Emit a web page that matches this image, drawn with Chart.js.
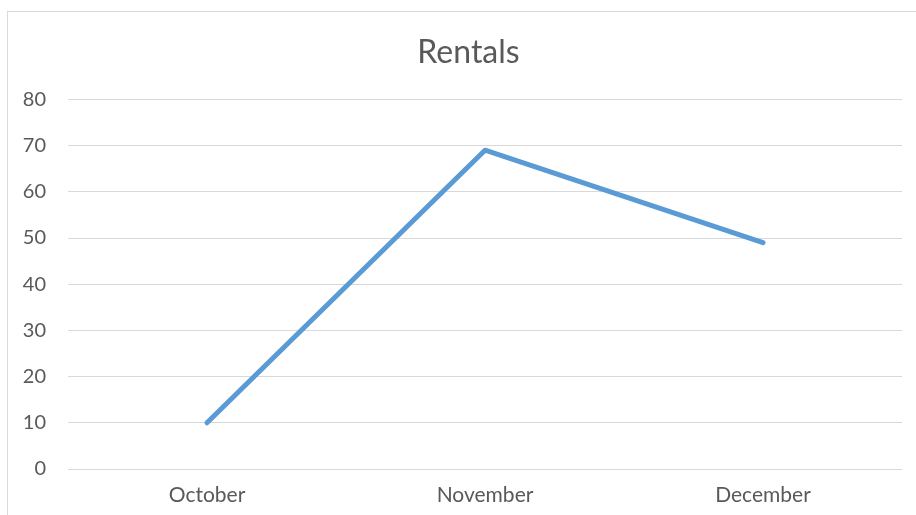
<!DOCTYPE html>
<html>
<head>
<meta charset="utf-8">
<script src="https://cdn.jsdelivr.net/npm/chart.js@4.4.0/dist/chart.umd.min.js"></script>
<style>
  html, body { margin: 0; padding: 0; background: #fff; overflow: hidden; width: 916px; height: 515px; }
  #wrap { position: relative; width: 916px; height: 515px; overflow: hidden; }
  #rentalsChart { position: absolute; left: 0; top: 0; }
  #frame { position: absolute; left: 7px; top: 11px; width: 1000px; height: 600px; border: 1.5px solid #d9d9d9; pointer-events: none; }
</style>
</head>
<body>
<div id="wrap">
  <canvas id="rentalsChart" width="940" height="515"></canvas>
  <div id="frame"></div>
</div>
<script>
const months = ["October", "November", "December"];
const rentals = [10, 69, 49];
const yTicks = [0, 10, 20, 30, 40, 50, 60, 70, 80];

const textColor = "#595959";
const gridColor = "#d9d9d9";
const fontFamily = "Lato, 'Open Sans', sans-serif";

const ctx = document.getElementById("rentalsChart");

new Chart(ctx, {
  type: "line",
  data: {
    labels: months,
    datasets: [
      {
        label: "Rentals",
        data: rentals,
        borderColor: "#5b9bd5",
        backgroundColor: "#5b9bd5",
        borderWidth: 5,
        pointRadius: 0,
        borderCapStyle: "round",
        borderJoinStyle: "round",
        tension: 0,
        fill: false,
      },
    ],
  },
  options: {
    responsive: false,
    animation: false,
    layout: { padding: { left: 0, right: 3, top: 11, bottom: 0 } },
    plugins: {
      legend: { display: false },
      tooltip: { enabled: false },
      title: {
        display: true,
        text: "Rentals",
        color: textColor,
        font: { family: fontFamily, size: 32, weight: "normal" },
        padding: { top: 22, bottom: 28 },
      },
    },
    scales: {
      x: {
        offset: true,
        grid: { display: false, drawTicks: false },
        border: { display: false },
        ticks: {
          color: textColor,
          padding: 14,
          maxRotation: 0,
          font: { family: fontFamily, size: 21 },
        },
        afterFit: (scale) => { scale.height = 46; },
      },
      y: {
        min: yTicks[0],
        max: yTicks[yTicks.length - 1],
        grid: { color: gridColor, lineWidth: 1, drawTicks: false },
        border: { display: false },
        ticks: {
          stepSize: 10,
          color: textColor,
          padding: 22,
          font: { family: fontFamily, size: 20 },
        },
        afterFit: (scale) => { scale.width = 68; },
      },
      // empty right-hand spacer so the title centres on the whole frame
      spacer: {
        type: "linear",
        position: "right",
        grid: { display: false, drawTicks: false },
        border: { display: false },
        ticks: { display: false },
        afterFit: (scale) => { scale.width = 35; },
      },
    },
  },
});
</script>
</body>
</html>
